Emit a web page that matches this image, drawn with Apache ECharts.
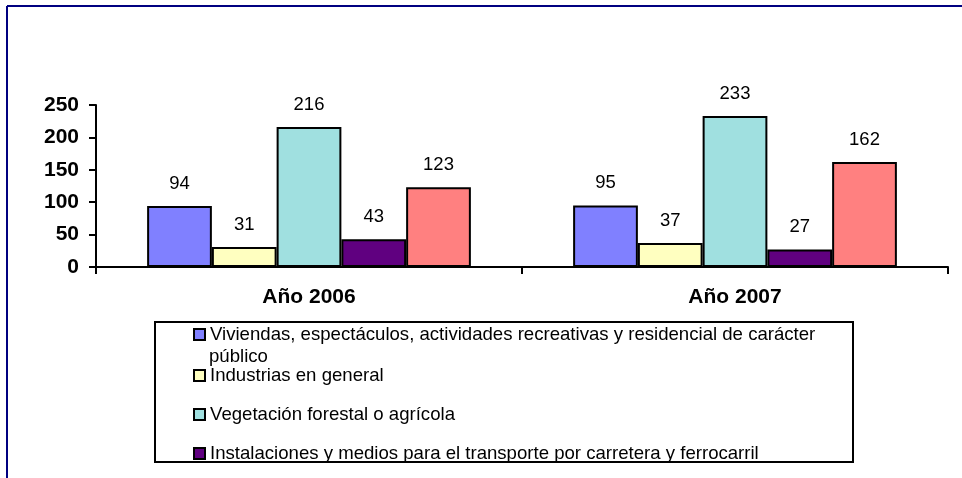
<!DOCTYPE html>
<html>
<head>
<meta charset="utf-8">
<script src="https://cdn.jsdelivr.net/npm/echarts@6/dist/echarts.min.js"></script>
<style>
  html, body { margin: 0; padding: 0; background: #fff; }
  #chart { width: 962px; height: 478px; }
</style>
</head>
<body>
<div id="chart"></div>
<script>
// datos
const years = ['Año 2006', 'Año 2007'];
const seriesNames = [
  'Viviendas, espectáculos, actividades recreativas y residencial de carácter público',
  'Industrias en general',
  'Vegetación forestal o agrícola',
  'Instalaciones y medios para el transporte por carretera y ferrocarril',
  'Otros'
];
const viviendas = [94, 95];
const industrias = [31, 37];
const vegetacion = [216, 233];
const transporte = [43, 27];
const otros = [123, 162];
const yTicks = [0, 50, 100, 150, 200, 250];

const colors = ['#8080FF', '#FFFFC0', '#A0E0E0', '#600080', '#FF8080'];
const values = [viviendas, industrias, vegetacion, transporte, otros];
const FONT = '"Liberation Sans", Arial, sans-serif';

const series = values.map((v, i) => ({
  name: seriesNames[i],
  type: 'bar',
  data: v,
  barGap: 0,
  barCategoryGap: '24%',
  itemStyle: { color: colors[i], borderColor: '#000', borderWidth: 2 },
  label: {
    show: true,
    position: 'top',
    distance: 13,
    color: '#000',
    fontFamily: FONT,
    fontSize: 18.5
  }
}));

// leyenda: solo se ven 4 entradas, la caja las corta
const legendTops = [334, 375, 414, 453];
const legends = legendTops.map((y, i) => ({
  data: [seriesNames[i]],
  left: 193,
  top: y - 9,
  padding: 0,
  itemWidth: 11,
  itemHeight: 11,
  icon: 'rect',
  itemStyle: { borderColor: '#000', borderWidth: 2 },
  selectedMode: false,
  formatter: name => i === 0 ? 'Viviendas, espectáculos, actividades recreativas y residencial de carácter' : name,
  textStyle: { color: '#000', fontFamily: FONT, fontSize: 18.6, lineHeight: 18 }
}));

const chart = echarts.init(document.getElementById('chart'));
chart.setOption({
  animation: false,
  backgroundColor: '#fff',
  grid: { left: 96, right: 14, top: 105, bottom: 211 },
  legend: legends,
  xAxis: {
    type: 'category',
    data: years,
    axisLine: { lineStyle: { color: '#000', width: 2 } },
    axisTick: { show: true, length: 7, lineStyle: { color: '#000', width: 2 } },
    axisLabel: { margin: 20, color: '#000', fontWeight: 'bold', fontSize: 21, fontFamily: FONT }
  },
  yAxis: {
    type: 'value',
    min: yTicks[0],
    max: yTicks[yTicks.length - 1],
    interval: yTicks[1] - yTicks[0],
    splitLine: { show: false },
    axisLine: { show: true, lineStyle: { color: '#000', width: 2 } },
    axisTick: { show: true, length: 7, lineStyle: { color: '#000', width: 2 } },
    axisLabel: { margin: 17, color: '#000', fontWeight: 'bold', fontSize: 21, fontFamily: FONT }
  },
  graphic: [
    // marco exterior azul
    { type: 'line', shape: { x1: 7, y1: 6, x2: 962, y2: 6 }, style: { stroke: '#000080', lineWidth: 2 } },
    { type: 'line', shape: { x1: 7, y1: 6, x2: 7, y2: 478 }, style: { stroke: '#000080', lineWidth: 2 } },
    // segunda linea de la primera entrada
    { type: 'text', left: 209, top: 347, style: { text: 'público', fill: '#000', font: '18.6px ' + FONT } },
    // tapa lo que queda fuera de la caja
    { type: 'rect', z: 10, shape: { x: 150, y: 463, width: 710, height: 15 }, style: { fill: '#fff' } },
    { type: 'rect', z: 11, shape: { x: 155, y: 322, width: 698, height: 140 }, style: { fill: 'none', stroke: '#000', lineWidth: 2 } }
  ],
  series
});
</script>
</body>
</html>
